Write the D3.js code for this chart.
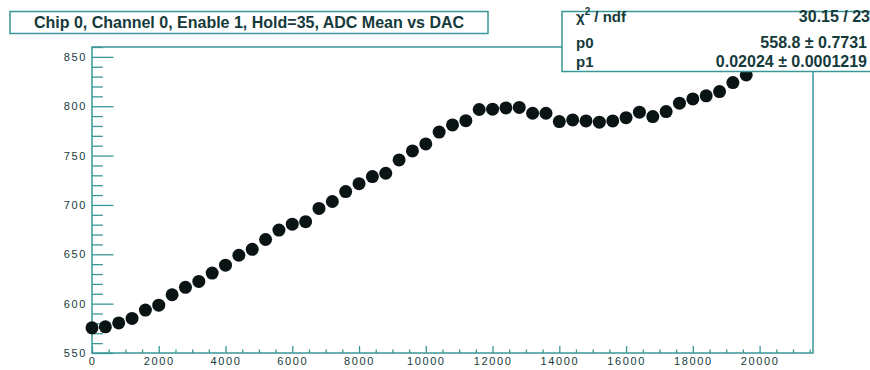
<!DOCTYPE html>
<html>
<head>
<meta charset="utf-8">
<script src="https://cdn.jsdelivr.net/npm/d3@7"></script>
<style>
  html, body { margin: 0; padding: 0; background: #fff; }
  svg { display: block; }
</style>
</head>
<body>
<svg id="chart" width="870" height="370"></svg>
<script>
// ---- data ----
const dacValues = [0, 400, 800, 1200, 1600, 2000, 2400, 2800, 3200, 3600,
  4000, 4400, 4800, 5200, 5600, 6000, 6400, 6800, 7200, 7600,
  8000, 8400, 8800, 9200, 9600, 10000, 10400, 10800, 11200, 11600,
  12000, 12400, 12800, 13200, 13600, 14000, 14400, 14800, 15200, 15600,
  16000, 16400, 16800, 17200, 17600, 18000, 18400, 18800, 19200, 19600];
const adcMean = [575.5, 576.5, 580.5, 585, 593.5, 598.5, 609, 616.5, 622.5, 631,
  639, 649, 655, 665, 674.5, 680.5, 683, 696.5, 703.5, 713.5,
  721.5, 728.7, 732.1, 745.6, 754.7, 761.8, 773.8, 781.1, 785.4, 796.7,
  797, 798.3, 798.8, 792.9, 792.9, 784.4, 786.1, 785.1, 783.8, 785.1,
  788.4, 794, 789.5, 794.6, 803.1, 807.4, 810.5, 814.8, 824, 831.7];
const xTickLabels = [0, 2000, 4000, 6000, 8000, 10000, 12000, 14000, 16000, 18000, 20000];
const yTickLabels = [550, 600, 650, 700, 750, 800, 850];
const titleText = "Chip 0, Channel 0, Enable 1, Hold=35, ADC Mean vs DAC";
const statNames = ["χ² / ndf", "p0", "p1"];
const statValues = ["30.15 / 23", "558.8 ± 0.7731", "0.02024 ± 0.0001219"];

// ---- layout ----
const lineColor = "#3b9797";
const textColor = "#163a3b";
const svg = d3.select("#chart");

const frame = { left: 92, right: 813, top: 47, bottom: 353 };
const x = d3.scaleLinear().domain([0, 21600]).range([frame.left, frame.right]);
const y = d3.scaleLinear().domain([550, 860]).range([frame.bottom, frame.top]);

// frame
svg.append("rect")
  .attr("x", frame.left).attr("y", frame.top)
  .attr("width", frame.right - frame.left).attr("height", frame.bottom - frame.top)
  .attr("fill", "#fff").attr("stroke", lineColor).attr("stroke-width", 1.5);

// minor ticks
const xMinor = d3.range(0, 21501, 500).filter(v => !xTickLabels.includes(v));
const yMinor = d3.range(550, 861, 10).filter(v => !yTickLabels.includes(v));

const gxMinor = svg.append("g").attr("transform", `translate(0,${frame.bottom})`)
  .call(d3.axisBottom(x).tickValues(xMinor).tickFormat("").tickSizeInner(-3.5).tickSizeOuter(0));
const gyMinor = svg.append("g").attr("transform", `translate(${frame.left},0)`)
  .call(d3.axisLeft(y).tickValues(yMinor).tickFormat("").tickSizeInner(-10.8).tickSizeOuter(0));

// major ticks + labels
const gx = svg.append("g").attr("transform", `translate(0,${frame.bottom})`)
  .call(d3.axisBottom(x).tickValues(xTickLabels).tickFormat(d3.format("d"))
    .tickSizeInner(-7).tickSizeOuter(0).tickPadding(4));
const gy = svg.append("g").attr("transform", `translate(${frame.left},0)`)
  .call(d3.axisLeft(y).tickValues(yTickLabels).tickFormat(d3.format("d"))
    .tickSizeInner(-21.5).tickSizeOuter(0).tickPadding(5));

[gxMinor, gyMinor, gx, gy].forEach(g => {
  g.select(".domain").remove();
  g.selectAll(".tick line").attr("stroke", lineColor).attr("stroke-width", 1.3);
});
[gx, gy].forEach(g => {
  g.selectAll(".tick text")
    .attr("fill", textColor)
    .style("font-family", "'Liberation Sans', Arial, sans-serif")
    .style("font-size", "11px")
    .style("letter-spacing", "1.6px");
});

// data points
svg.append("g").selectAll("circle")
  .data(dacValues.map((d, i) => [d, adcMean[i]]))
  .join("circle")
  .attr("cx", d => x(d[0]))
  .attr("cy", d => y(d[1]))
  .attr("r", 6.5)
  .attr("fill", "#0b1414");

// title box
svg.append("rect")
  .attr("x", 10).attr("y", 11.5).attr("width", 478).attr("height", 22)
  .attr("fill", "#fff").attr("stroke", lineColor).attr("stroke-width", 1.5);
svg.append("text")
  .attr("x", 249).attr("y", 28)
  .attr("text-anchor", "middle")
  .attr("fill", textColor)
  .style("font-family", "'Liberation Sans', Arial, sans-serif")
  .style("font-weight", "bold")
  .style("font-size", "16px")
  .text(titleText);

// stats box
svg.append("rect")
  .attr("x", 562).attr("y", 11.5).attr("width", 320).attr("height", 60)
  .attr("fill", "#fff").attr("stroke", lineColor).attr("stroke-width", 1.5);
const rowY = [22, 48, 67];
const statsFont = "'Liberation Sans', Arial, sans-serif";
statNames.forEach((n, i) => {
  const t = svg.append("text")
    .attr("x", 576).attr("y", rowY[i])
    .attr("fill", textColor)
    .style("font-family", statsFont).style("font-weight", "bold")
    .style("font-size", "15px");
  if (i === 0) {
    t.append("tspan").text("χ");
    t.append("tspan").attr("dy", -7).style("font-size", "10px").text("2");
    t.append("tspan").attr("dy", 7).text(" / ndf");
  } else {
    t.text(n);
  }
});
statValues.forEach((v, i) => {
  svg.append("text")
    .attr("x", i === 0 ? 870 : 867).attr("y", rowY[i])
    .attr("text-anchor", "end")
    .attr("fill", textColor)
    .style("font-family", statsFont).style("font-weight", "bold")
    .style("font-size", "16px")
    .text(v);
});
</script>
</body>
</html>
